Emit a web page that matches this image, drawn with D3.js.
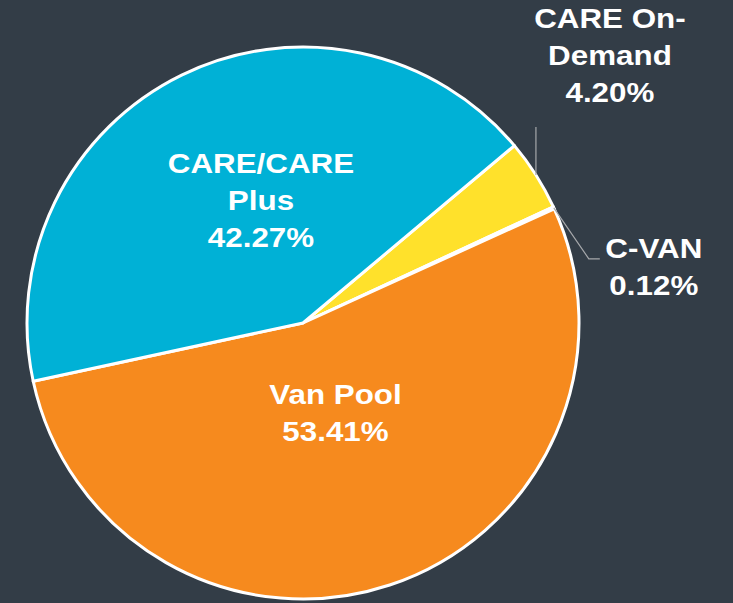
<!DOCTYPE html>
<html>
<head>
<meta charset="utf-8">
<script src="https://cdn.jsdelivr.net/npm/d3@7"></script>
<style>
  html, body { margin: 0; padding: 0; background: #333d47; }
  svg { display: block; }
</style>
</head>
<body>
<svg id="chart" width="733" height="603"></svg>
<script>
// slice order as drawn, clockwise from the CARE On-Demand edge
var categories = ["CARE On-Demand", "C-VAN", "Van Pool", "CARE/CARE Plus"];
var values = [4.20, 0.12, 53.41, 42.27];
var labelLines = [["CARE On-", "Demand", "4.20%"], ["C-VAN", "0.12%"], ["Van Pool", "53.41%"], ["CARE/CARE", "Plus", "42.27%"]];
var colors = ["#ffe12b", "#cfd2d4", "#f68a1e", "#00b1d6"];

var svg = d3.select("#chart");
var cx = 303, cy = 323, radius = 276;

var pie = d3.pie()
    .sort(null)
    .value(function (d) { return d; })
    .startAngle(50 * Math.PI / 180)
    .endAngle(50 * Math.PI / 180 + 2 * Math.PI);

var arcs = pie(values);

var arc = d3.arc()
    .innerRadius(0)
    .outerRadius(radius);

var g = svg.append("g")
    .attr("transform", "translate(" + cx + "," + cy + ")");

g.selectAll("path")
    .data(arcs)
    .enter()
    .append("path")
    .attr("d", arc)
    .attr("fill", function (d, i) { return colors[i]; })
    .attr("stroke", "#ffffff")
    .attr("stroke-width", 3)
    .attr("stroke-linejoin", "round");

// point on the outer edge at a slice's mid angle
function edgePoint(d) {
    var a = (d.startAngle + d.endAngle) / 2;
    return [radius * Math.sin(a), -radius * Math.cos(a)];
}

// label placement: inside slices use a fraction of the radius plus a nudge, outside ones use leaders
var insideRadius = { "Van Pool": 0.34, "CARE/CARE Plus": 0.47 };
var nudge = { "Van Pool": [3, 0], "CARE/CARE Plus": [15, -6] };
var lineHeight = 37;

function drawLines(x, yFirst, lines) {
    var t = g.append("text")
        .attr("transform", "translate(" + x + "," + yFirst + ") scale(1.12,1)")
        .attr("text-anchor", "middle")
        .attr("fill", "#ffffff")
        .attr("font-family", "Arial, 'Liberation Sans', sans-serif")
        .attr("font-weight", "bold")
        .attr("font-size", "28px");
    lines.forEach(function (s, k) {
        t.append("tspan")
            .attr("x", 0)
            .attr("y", k * lineHeight)
            .text(s);
    });
}

arcs.forEach(function (d, i) {
    var name = categories[i];
    var lines = labelLines[i];
    if (insideRadius[name]) {
        var a = (d.startAngle + d.endAngle) / 2;
        var r = radius * insideRadius[name];
        var x = r * Math.sin(a) + nudge[name][0], y = -r * Math.cos(a) + nudge[name][1];
        var top = y - (lines.length - 1) * lineHeight / 2 + 10;
        drawLines(x, top, lines);
    } else if (name === "CARE On-Demand") {
        var p = edgePoint(d);
        g.append("line")
            .attr("x1", p[0]).attr("y1", p[1])
            .attr("x2", p[0]).attr("y2", p[1] - 48)
            .attr("stroke", "#a6a8ab")
            .attr("stroke-width", 1.2);
        drawLines(p[0] + 74, p[1] - 48 - 25 - 2 * lineHeight, lines);
    } else {
        var q = edgePoint(d);
        var ex = q[0] + 35, ey = q[1] + 51;
        g.append("polyline")
            .attr("points", [q, [ex, ey], [ex + 11, ey]].map(function (v) { return v.join(","); }).join(" "))
            .attr("fill", "none")
            .attr("stroke", "#a6a8ab")
            .attr("stroke-width", 1.2);
        drawLines(ex + 65, ey - 1, lines);
    }
});
</script>
</body>
</html>
